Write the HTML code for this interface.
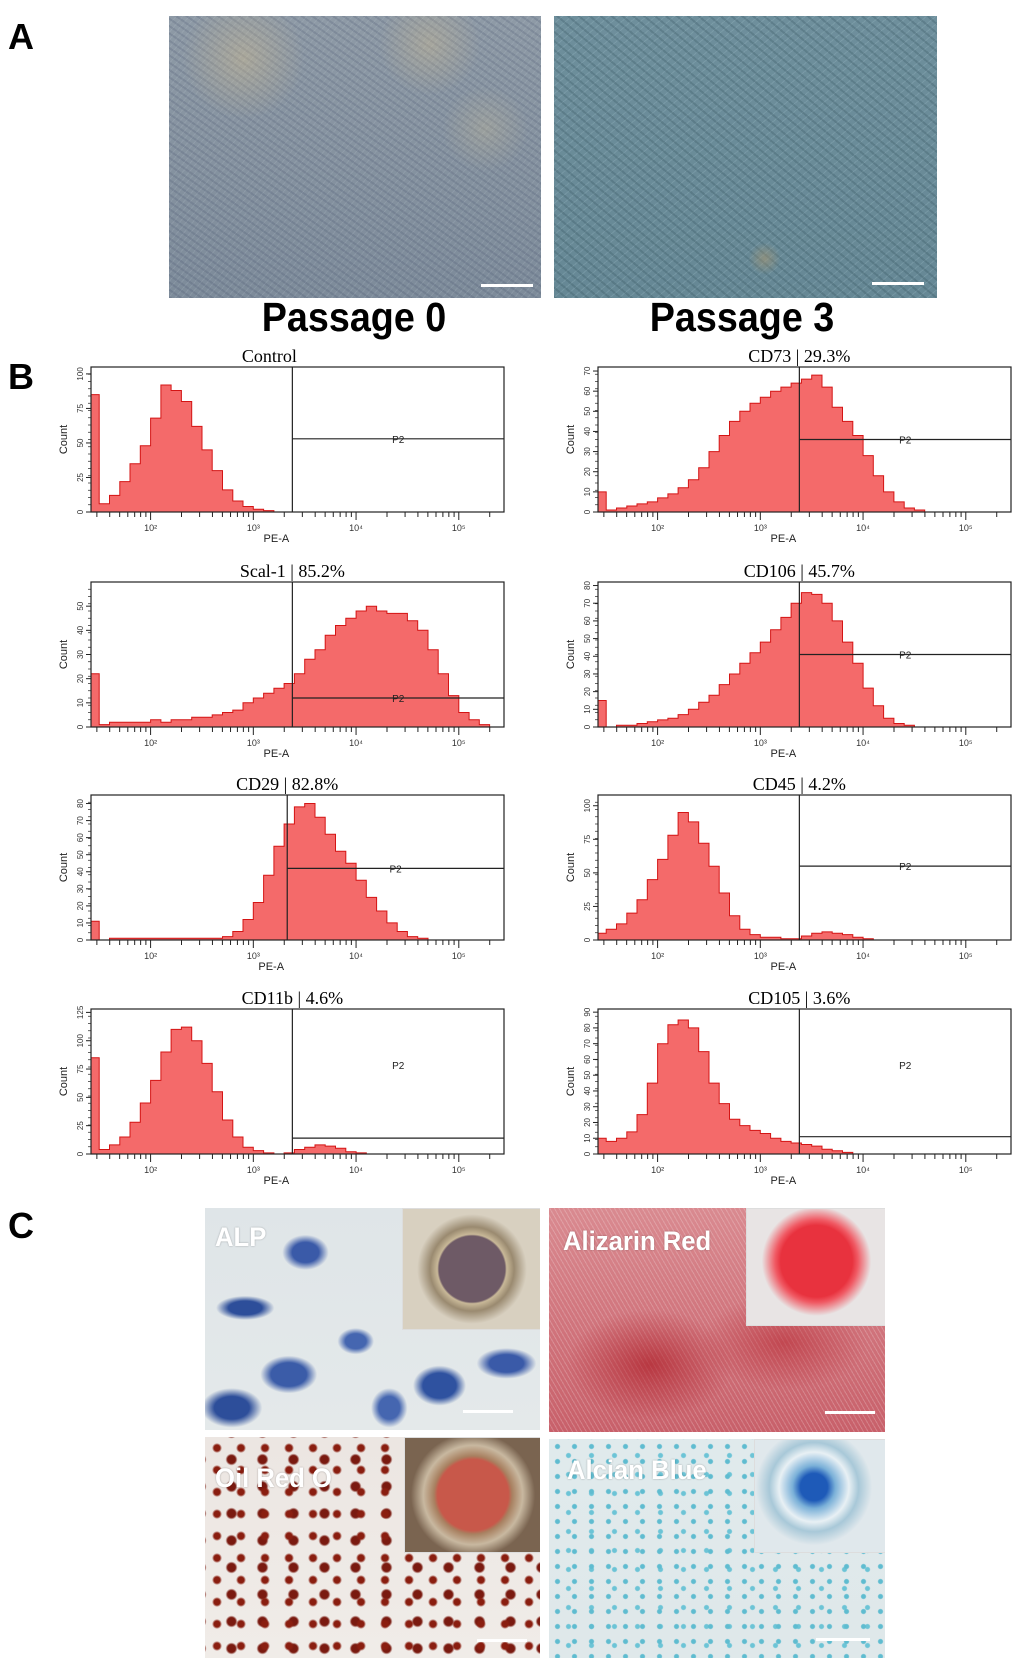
<!DOCTYPE html>
<html><head><meta charset="utf-8">
<style>
html,body{margin:0;padding:0;background:#fff;}
body{width:1020px;height:1668px;position:relative;overflow:hidden;font-family:"Liberation Sans",sans-serif;}
.lbl{position:absolute;font-weight:bold;font-size:36px;font-family:"Liberation Sans",sans-serif;color:#000;}
.photo{position:absolute;overflow:hidden;}
.cap{position:absolute;font-weight:bold;font-size:41px;font-family:"Liberation Sans",sans-serif;transform:translateX(-50%) scaleX(0.92);white-space:nowrap;}
.sbar{position:absolute;height:3px;background:#fff;}
.stain{position:absolute;color:#fff;font-weight:bold;font-size:27px;font-family:"Liberation Sans",sans-serif;text-shadow:0 0 2px rgba(0,0,0,.3);transform-origin:0 0;transform:scaleX(0.95);white-space:nowrap;}
.inset{position:absolute;border:1px solid #ddd;overflow:hidden;}
svg text{font-family:"Liberation Sans",sans-serif;}
svg text.ttl{font-family:"Liberation Serif",serif;}
</style></head>
<body>
<div class="lbl" style="left:8px;top:16px;">A</div>
<div class="photo" style="left:169px;top:16px;width:372px;height:282px;background:
radial-gradient(circle at 20% 15%,rgba(230,200,140,.35),transparent 16%),
radial-gradient(circle at 70% 10%,rgba(230,200,140,.3),transparent 14%),
radial-gradient(circle at 85% 40%,rgba(220,200,150,.25),transparent 12%),
repeating-linear-gradient(35deg,rgba(60,70,100,.18) 0 2px,transparent 2px 6px),
repeating-linear-gradient(-50deg,rgba(200,210,220,.15) 0 1px,transparent 1px 5px),
linear-gradient(#8e9aa6,#7d8b9a);"></div>
<div class="sbar" style="left:481px;top:284px;width:52px;"></div>
<div class="photo" style="left:554px;top:16px;width:383px;height:282px;background:
radial-gradient(circle at 55% 86%,rgba(170,150,110,.55),transparent 5%),
repeating-linear-gradient(40deg,rgba(30,60,70,.2) 0 2px,transparent 2px 7px),
repeating-linear-gradient(-40deg,rgba(180,210,220,.18) 0 1px,transparent 1px 6px),
linear-gradient(#6e8f9c,#668895);"></div>
<div class="sbar" style="left:872px;top:282px;width:52px;"></div>
<div class="cap" style="left:354px;top:294px;">Passage 0</div>
<div class="cap" style="left:742px;top:294px;">Passage 3</div>

<div class="lbl" style="left:8px;top:356px;">B</div>
<svg id="flow" width="1020" height="1668" style="position:absolute;left:0;top:0;"></svg>

<div class="lbl" style="left:8px;top:1205px;">C</div>
<div class="photo" style="left:205px;top:1208px;width:335px;height:222px;background:
radial-gradient(ellipse at 30% 20%,#3a5aa8 0 4%,transparent 7%),
radial-gradient(ellipse at 12% 45%,#2d4e9a 0 4%,transparent 7%),
radial-gradient(ellipse at 25% 75%,#3b5ca8 0 5%,transparent 8%),
radial-gradient(ellipse at 45% 60%,#4566b0 0 4%,transparent 7%),
radial-gradient(ellipse at 70% 80%,#2f52a0 0 5%,transparent 8%),
radial-gradient(ellipse at 90% 70%,#3a5aa8 0 4%,transparent 7%),
radial-gradient(ellipse at 8% 90%,#2d4e9a 0 4%,transparent 7%),
radial-gradient(ellipse at 55% 90%,#4566b0 0 4%,transparent 7%),
linear-gradient(#dfe5e8,#e4e9ea);">
<div class="inset" style="left:197px;top:0;width:138px;height:120px;background:radial-gradient(circle at 50% 50%,#6e5a66 0 36%,#c8b898 38%,#9a8a70 46%,#d8d0c0 60%);"></div>
<div class="stain" style="left:10px;top:14px;">ALP</div>
<div class="sbar" style="left:258px;top:202px;width:50px;"></div>
</div>
<div class="photo" style="left:549px;top:1208px;width:336px;height:224px;background:
radial-gradient(ellipse at 30% 70%,rgba(170,20,30,.6),transparent 25%),
radial-gradient(ellipse at 70% 60%,rgba(180,30,40,.5),transparent 25%),
repeating-linear-gradient(60deg,rgba(255,255,255,.2) 0 1px,transparent 1px 4px),
linear-gradient(#d98a90,#c8606a);">
<div class="inset" style="left:197px;top:0;width:139px;height:116px;background:radial-gradient(circle at 50% 45%,#e8323e 0 38%,#f05a64 44%,#e8e4e4 58%);"></div>
<div class="stain" style="left:14px;top:18px;">Alizarin Red</div>
<div class="sbar" style="left:276px;top:203px;width:50px;"></div>
</div>
<div class="photo" style="left:205px;top:1437px;width:335px;height:221px;background:
radial-gradient(circle,#8a1e10 0 3px,transparent 5px) 0 0/24px 22px,
radial-gradient(circle,#7a1a10 0 4px,transparent 6px) 11px 9px/31px 27px,
linear-gradient(#ece6e2,#f0ece8);">
<div class="inset" style="left:199px;top:0;width:136px;height:114px;background:radial-gradient(circle at 50% 50%,#c8584a 0 40%,#a88060 44%,#c8b8a0 56%,#7a6450 70%);"></div>
<div class="stain" style="left:10px;top:26px;">Oil Red O</div>
<div class="sbar" style="left:272px;top:202px;width:50px;"></div>
</div>
<div class="photo" style="left:549px;top:1439px;width:336px;height:219px;background:
radial-gradient(circle,#5fbcd0 0 2px,transparent 3px) 0 0/17px 15px,
radial-gradient(circle,#6cc4d6 0 2px,transparent 3px) 8px 7px/23px 19px,
linear-gradient(#e0eaec,#dfe8ea);">
<div class="inset" style="left:205px;top:0;width:131px;height:112px;background:radial-gradient(circle at 45% 42%,#1e5ab8 0 14%,#7ab0d8 22%,#e8f0f4 36%,#a8c8d8 46%,#e0e8ec 60%);"></div>
<div class="stain" style="left:18px;top:16px;">Alcian Blue</div>
<div class="sbar" style="left:267px;top:199px;width:54px;"></div>
</div>

<script>
// bins: centers at log10 = 1.45 + 0.1*i
const binStart = 1.40;
const binWidth = 0.1;
const chartTitles = ["Control","CD73 | 29.3%","Scal-1 | 85.2%","CD106 | 45.7%","CD29 | 82.8%","CD45 | 4.2%","CD11b | 4.6%","CD105 | 3.6%"];
const yMaxes = [105,72,60,82,85,108,128,92];
const yTickSets = [[0,25,50,75,100],[0,10,20,30,40,50,60,70],[0,10,20,30,40,50],[0,10,20,30,40,50,60,70,80],[0,10,20,30,40,50,60,70,80],[0,25,50,75,100],[0,25,50,75,100,125],[0,10,20,30,40,50,60,70,80,90]];
const gateLogX = [3.38,3.38,3.38,3.38,3.33,3.38,3.38,3.38];
const gateCountY = [53,36,12,41,42,55,14,11];
const xTickLabels = ["10²","10³","10⁴","10⁵"];
const controlCounts = [85,6,12,22,35,48,68,92,88,80,62,45,30,16,8,4,2,1,0,0,0,0,0,0,0,0,0,0,0,0,0,0,0,0,0,0,0,0,0,0,0];
const cd73Counts = [10,1,2,3,4,5,7,9,12,16,22,30,38,45,50,54,57,60,62,64,66,68,62,52,45,38,28,18,10,5,2,1,0,0,0,0,0,0,0,0,0];
const scal1Counts = [22,1,2,2,2,2,3,2,3,3,4,4,5,6,7,10,12,14,16,18,22,28,32,38,42,45,48,50,48,47,47,44,40,32,22,13,6,3,1,0,0];
const cd106Counts = [15,0,1,1,2,3,4,5,7,10,14,18,24,30,36,42,48,55,62,70,76,75,70,60,48,36,22,12,5,2,1,0,0,0,0,0,0,0,0,0,0];
const cd29Counts = [11,0,1,1,1,1,1,1,1,1,1,1,1,2,5,12,22,38,55,68,78,80,72,62,52,45,35,25,17,10,5,2,1,0,0,0,0,0,0,0,0];
const cd45Counts = [5,8,12,20,30,45,60,78,95,88,72,55,35,18,8,4,2,2,1,1,3,5,6,5,4,2,1,0,0,0,0,0,0,0,0,0,0,0,0,0,0];
const cd11bCounts = [85,4,8,15,28,45,65,90,110,112,100,80,55,30,15,6,3,1,0,1,4,6,8,7,5,2,1,0,0,0,0,0,0,0,0,0,0,0,0,0,0];
const cd105Counts = [10,8,10,14,25,45,70,82,85,80,65,45,32,22,18,15,13,10,8,7,6,5,3,2,1,0,0,0,0,0,0,0,0,0,0,0,0,0,0,0,0];
const allCounts = [controlCounts,cd73Counts,scal1Counts,cd106Counts,cd29Counts,cd45Counts,cd11bCounts,cd105Counts];
const chartNames = ["control","cd73","scal-1","cd106","cd29","cd45","cd11b","cd105"];

const NS = "http://www.w3.org/2000/svg";
const svg = document.getElementById("flow");
const colX = [91, 598];
const rowY = [367, 582, 795, 1009];
const boxW = 413, boxH = 145;
const logMin = 1.42, logMax = 5.44;

function mk(tag, attrs, parent) {
  const e = document.createElementNS(NS, tag);
  for (const k in attrs) e.setAttribute(k, attrs[k]);
  parent.appendChild(e);
  return e;
}

allCounts.forEach(function(counts, c) {
  const x0 = colX[c % 2], y0 = rowY[Math.floor(c / 2)];
  const ymax = yMaxes[c];
  const xs = function(l) { return x0 + (l - logMin) / (logMax - logMin) * boxW; };
  const ys = function(v) { return y0 + boxH - v / ymax * boxH; };
  const g = mk("g", {}, svg);
  
  
  let d = "M" + xs(logMin) + "," + ys(0);
  counts.forEach(function(v, i) {
    let a = Math.max(logMin, binStart + binWidth * i), b = Math.min(logMax, binStart + binWidth * (i + 1));
    d += " L" + xs(a).toFixed(1) + "," + ys(v).toFixed(1) + " L" + xs(b).toFixed(1) + "," + ys(v).toFixed(1);
  });
  d += " L" + xs(logMax) + "," + ys(0) + " Z";
  const hp = mk("path", {d: d, fill: "#f46a6a", stroke: "#d41414", "stroke-width": "1"}, g);
  
  
  const bx = mk("rect", {x: x0, y: y0, width: boxW, height: boxH, fill: "none", stroke: "#222", "stroke-width": "1.2"}, g);
  
  
  const gx = xs(gateLogX[c]);
  const gl = mk("line", {x1: gx, y1: y0, x2: gx, y2: y0 + boxH, stroke: "#222", "stroke-width": "1.2"}, g);
  
  
  const gy = ys(gateCountY[c]);
  const hl = mk("line", {x1: gx, y1: gy, x2: x0 + boxW, y2: gy, stroke: "#222", "stroke-width": "1.2"}, g);
  
  
  const p2y = (c >= 6) ? y0 + 60 : gy + 4;
  const p2 = mk("text", {x: (gx + x0 + boxW) / 2, y: p2y, "font-size": "10", "text-anchor": "middle", fill: "#222"}, g);
  p2.textContent = "P2";
  
  
  const t = mk("text", {x: gx, y: y0 - 5, "font-size": "18", "text-anchor": "middle", "class": "ttl"}, g);
  t.textContent = chartTitles[c];
  if (c === 0) t.setAttribute("x", gx - 23);
  
  
  for (let dec = 1; dec <= 5; dec++) {
    for (let m = 1; m <= 9; m++) {
      const l = dec + Math.log10(m);
      if (l < logMin || l > logMax) continue;
      const tx = xs(l);
      mk("line", {x1: tx, y1: y0 + boxH, x2: tx, y2: y0 + boxH + (m === 1 ? 8 : 5), stroke: "#222", "stroke-width": "1"}, g);
    }
  }
  xTickLabels.forEach(function(lab, i) {
    const tl = mk("text", {x: xs(i + 2), y: y0 + boxH + 19, "font-size": "9", "text-anchor": "middle", fill: "#333"}, g);
    tl.textContent = lab;
    
    
  });
  const xt = mk("text", {x: gx - 16, y: y0 + boxH + 30, "font-size": "11", "text-anchor": "middle", fill: "#222"}, g);
  xt.textContent = "PE-A";
  
  
  yTickSets[c].forEach(function(v) {
    const ty = ys(v);
    mk("line", {x1: x0 - 5, y1: ty, x2: x0, y2: ty, stroke: "#222", "stroke-width": "1"}, g);
    const yl = mk("text", {x: 0, y: 0, "font-size": "8", "text-anchor": "middle", fill: "#333", transform: "translate(" + (x0 - 8) + "," + ty + ") rotate(-90)"}, g);
    yl.textContent = String(v);
    
    
  });
  for (let k = 0; k < 20; k++) {
    const ty = y0 + boxH - k * boxH / 20;
    mk("line", {x1: x0 - 3, y1: ty, x2: x0, y2: ty, stroke: "#222", "stroke-width": "0.7"}, g);
  }
  const yt = mk("text", {x: 0, y: 0, "font-size": "11", "text-anchor": "middle", fill: "#222", transform: "translate(" + (x0 - 24) + "," + (y0 + boxH / 2) + ") rotate(-90)"}, g);
  yt.textContent = "Count";
  
  
});
</script>
</body></html>
